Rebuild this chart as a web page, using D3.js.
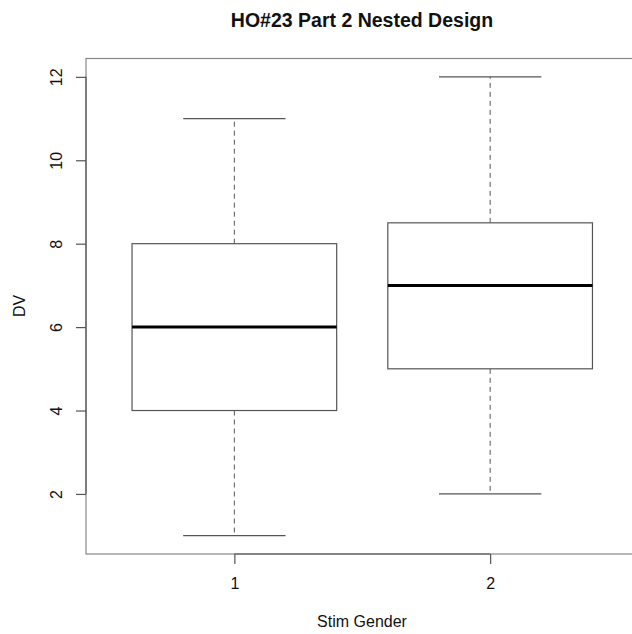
<!DOCTYPE html>
<html><head><meta charset="utf-8">
<script src="https://cdn.jsdelivr.net/npm/d3@7"></script>
<style>body{margin:0;background:#fff}svg{display:block}text{font-family:"Liberation Sans",Arial,sans-serif}</style>
</head><body><svg id="c" width="632" height="634"></svg>
<script>
const categories = ["1","2"];
const mins = [1, 2];
const q1s = [4, 5];
const medians = [6, 7];
const q3s = [8, 8.5];
const maxs = [11, 12];
const yTicks = [2,4,6,8,10,12];

const svg = d3.select("#c");
const x = d3.scaleLinear().domain([0.42, 2.58]).range([86, 638.5]);
const y = d3.scaleLinear().domain([0.56, 12.44]).range([554, 58.5]);
const lineCol = "#555";

const boxes = categories.map((c,i)=>({c, i:i+1, min:mins[i], q1:q1s[i], med:medians[i], q3:q3s[i], max:maxs[i]}));
const hw = 0.4, sw = 0.2;
const g = svg.append("g");
boxes.forEach(b=>{
  g.append("line").attr("x1",x(b.i)).attr("x2",x(b.i)).attr("y1",y(b.q3)).attr("y2",y(b.max))
    .attr("stroke",lineCol).attr("stroke-width",1).attr("stroke-dasharray","5,4");
  g.append("line").attr("x1",x(b.i)).attr("x2",x(b.i)).attr("y1",y(b.q1)).attr("y2",y(b.min))
    .attr("stroke",lineCol).attr("stroke-width",1).attr("stroke-dasharray","5,4");
  [b.min,b.max].forEach(v=>g.append("line").attr("x1",x(b.i-sw)).attr("x2",x(b.i+sw)).attr("y1",y(v)).attr("y2",y(v))
    .attr("stroke",lineCol).attr("stroke-width",1.3));
  g.append("rect").attr("x",x(b.i-hw)).attr("width",x(b.i+hw)-x(b.i-hw)).attr("y",y(b.q3)).attr("height",y(b.q1)-y(b.q3))
    .attr("fill","#fff").attr("stroke",lineCol).attr("stroke-width",1.2);
  g.append("line").attr("x1",x(b.i-hw)).attr("x2",x(b.i+hw)).attr("y1",y(b.med)).attr("y2",y(b.med))
    .attr("stroke","#000").attr("stroke-width",3);
});

svg.append("rect").attr("x",86).attr("y",58.5).attr("width",638.5-86).attr("height",554-58.5)
  .attr("fill","none").attr("stroke","#888").attr("stroke-width",1.2);

const ya = svg.append("g").attr("transform","translate(86,0)")
  .call(d3.axisLeft(y).tickValues(yTicks).tickSize(10).tickPadding(0).tickFormat(d3.format("d")));
ya.attr("font-family",null).attr("font-size",16);
ya.select(".domain").remove();
ya.append("line").attr("x1",0).attr("x2",0).attr("y1",y(2)).attr("y2",y(12)).attr("stroke","#555").attr("stroke-width",1.2);
ya.selectAll(".tick line").attr("stroke","#555").attr("stroke-width",1.2);
ya.selectAll(".tick text").attr("x",0).attr("dy","0.35em")
  .attr("transform","translate(-30,0) rotate(-90)").attr("text-anchor","middle")
  .attr("fill","#111");

const xa = svg.append("g").attr("transform","translate(0,554)")
  .call(d3.axisBottom(x).tickValues([1,2]).tickSize(10).tickPadding(12).tickFormat((d,i)=>categories[i]));
xa.attr("font-family",null).attr("font-size",16);
xa.select(".domain").remove();
xa.append("line").attr("x1",x(1)).attr("x2",x(2)).attr("y1",0).attr("y2",0).attr("stroke","#555").attr("stroke-width",1.2);
xa.selectAll(".tick line").attr("stroke","#555").attr("stroke-width",1.2);
xa.selectAll(".tick text").attr("dy",null).attr("y",35).attr("fill","#111");

svg.append("text").attr("x",362).attr("y",27).attr("text-anchor","middle").attr("font-weight","bold").attr("font-size",19.5).attr("fill","#111").text("HO#23 Part 2 Nested Design");
svg.append("text").attr("x",362).attr("y",627).attr("text-anchor","middle").attr("font-size",16).attr("fill","#111").text("Stim Gender");
svg.append("text").attr("transform","translate(25,306) rotate(-90)").attr("text-anchor","middle").attr("font-size",16).attr("fill","#111").text("DV");
</script></body></html>
